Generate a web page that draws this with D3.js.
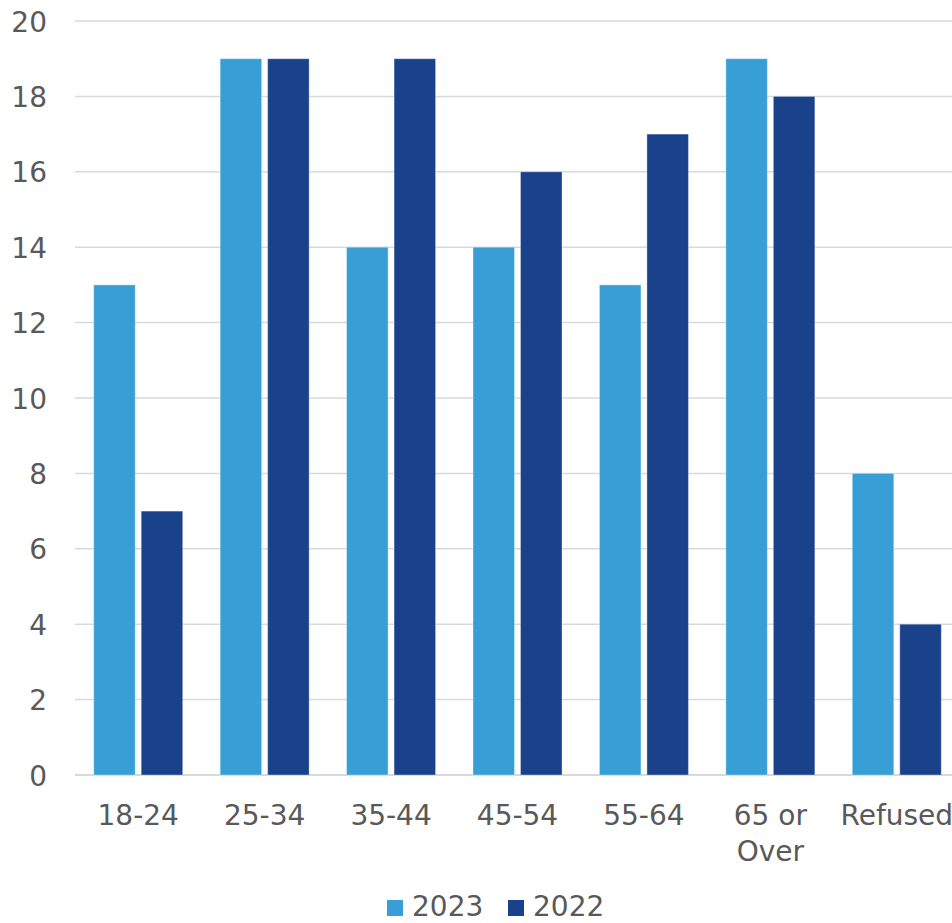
<!DOCTYPE html>
<html>
<head>
<meta charset="utf-8">
<script src="https://cdn.jsdelivr.net/npm/d3@7"></script>
<style>
  html, body { margin: 0; padding: 0; background: #fff; overflow: hidden; }
  svg { display: block; font-family: "DejaVu Sans", "Liberation Sans", Arial, sans-serif; }
</style>
</head>
<body>
<svg id="chart" width="952" height="923"></svg>
<script>
// Age groups (line breaks split with "\n")
const categories = ["18-24", "25-34", "35-44", "45-54", "55-64", "65 or\nOver", "Refused"];
const seriesNames = ["2023", "2022"];
const values2023 = [13, 19, 14, 14, 13, 19, 8];
const values2022 = [7, 19, 19, 16, 17, 18, 4];
const yTicks = [0, 2, 4, 6, 8, 10, 12, 14, 16, 18, 20];

const colors = { "2023": "#389FD6", "2022": "#1A428A" };
const textColor = "#595959";
const gridColor = "#D9D9D9";
const fontSize = 28;

const rows = categories.map((c, i) => ({ cat: c, "2023": values2023[i], "2022": values2022[i] }));

const svg = d3.select("#chart");
const plotLeft = 75, plotRight = 960, plotTop = 21, plotBottom = 775;

const x = d3.scaleBand().domain(categories).range([plotLeft, plotRight]).paddingInner(0).paddingOuter(0);
const inner = d3.scaleBand().domain(seriesNames).range([0, x.bandwidth()])
  .paddingInner(0.126).paddingOuter(0.394);
const y = d3.scaleLinear().domain([0, 20]).range([plotBottom, plotTop]);

// gridlines
svg.append("g")
  .selectAll("line")
  .data(yTicks)
  .join("line")
  .attr("x1", plotLeft).attr("x2", plotRight)
  .attr("y1", d => y(d)).attr("y2", d => y(d))
  .attr("stroke", gridColor)
  .attr("stroke-width", d => d === 0 ? 2 : 1.5);

// y axis labels
const yAxis = d3.axisLeft(y).tickValues(yTicks).tickSize(0).tickPadding(0);
const yg = svg.append("g").attr("transform", "translate(47,0)").call(yAxis);
yg.select(".domain").remove();
yg.selectAll("text")
  .attr("fill", textColor)
  .attr("font-size", fontSize)
  .attr("font-family", "DejaVu Sans, sans-serif")
  .attr("dy", "0.36em");

// bars
const groups = svg.append("g")
  .selectAll("g")
  .data(rows)
  .join("g")
  .attr("transform", d => `translate(${x(d.cat)},0)`);

groups.selectAll("rect")
  .data(d => seriesNames.map(s => ({ s, v: d[s] })))
  .join("rect")
  .attr("x", d => inner(d.s))
  .attr("width", inner.bandwidth())
  .attr("y", d => y(d.v))
  .attr("height", d => y(0) - y(d.v))
  .attr("fill", d => colors[d.s])
  .attr("stroke", "rgba(255,255,255,0.35)")
  .attr("stroke-width", 1);

// x axis labels
const xg = svg.append("g");
categories.forEach(c => {
  const cx = x(c) + x.bandwidth() / 2;
  const t = xg.append("text")
    .attr("x", cx)
    .attr("y", 825)
    .attr("text-anchor", "middle")
    .attr("fill", textColor)
    .attr("font-size", fontSize);
  c.split("\n").forEach((l, i) => {
    t.append("tspan")
      .attr("x", cx)
      .attr("dy", i === 0 ? 0 : 36)
      .text(l);
  });
});

// legend
const legend = svg.append("g");
const legendItems = [{ name: "2023", x: 387 }, { name: "2022", x: 508 }];
legendItems.forEach(it => {
  legend.append("rect")
    .attr("x", it.x).attr("y", 900)
    .attr("width", 16).attr("height", 16)
    .attr("fill", colors[it.name]);
  legend.append("text")
    .attr("x", it.x + 25).attr("y", 916)
    .attr("fill", textColor)
    .attr("font-size", fontSize)
    .text(it.name);
});
</script>
</body>
</html>
